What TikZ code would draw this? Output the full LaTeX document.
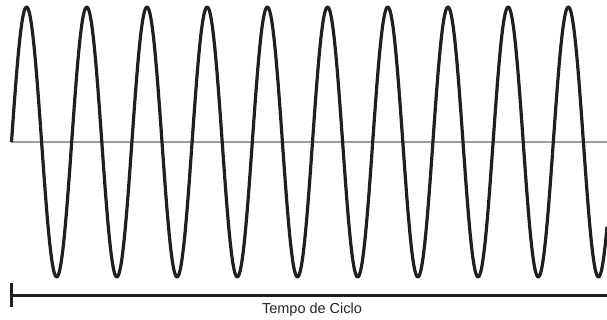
\documentclass[tikz,border=0pt]{standalone}
\usepackage{fontspec}
\setmainfont{Liberation Sans}
\begin{document}
\begin{tikzpicture}[x=1pt,y=1pt,
  wave/.style={line width=3.2pt,color=black!88,line join=round},
  axis/.style={line width=2pt,color=black!38},
  scale bar/.style={line width=3pt,color=black!88},
  caption/.style={font=\fontsize{14.5}{17}\selectfont,text=black!85,inner sep=0pt,anchor=base}]
\useasboundingbox (0,0) rectangle (607,320);
% centre line
\coordinate (axl) at (11,178);
\coordinate (axr) at (607,178);
\draw[axis] (axl) -- (axr);
% wave
\draw[wave] plot[domain=11.5:607,samples=600,smooth] (\x,{178+135*sin(5.98*(\x-11.5))});
% time bar
\coordinate (bl) at (11,24.5);
\coordinate (br) at (607,24.5);
\coordinate (tt) at (11,37);
\coordinate (tb) at (11,13);
\draw[scale bar] (bl) -- (br);
\draw[scale bar] (tt) -- (tb);
\node[caption] (lbl) at (312,6.5) {Tempo de Ciclo};
\end{tikzpicture}
\end{document}
